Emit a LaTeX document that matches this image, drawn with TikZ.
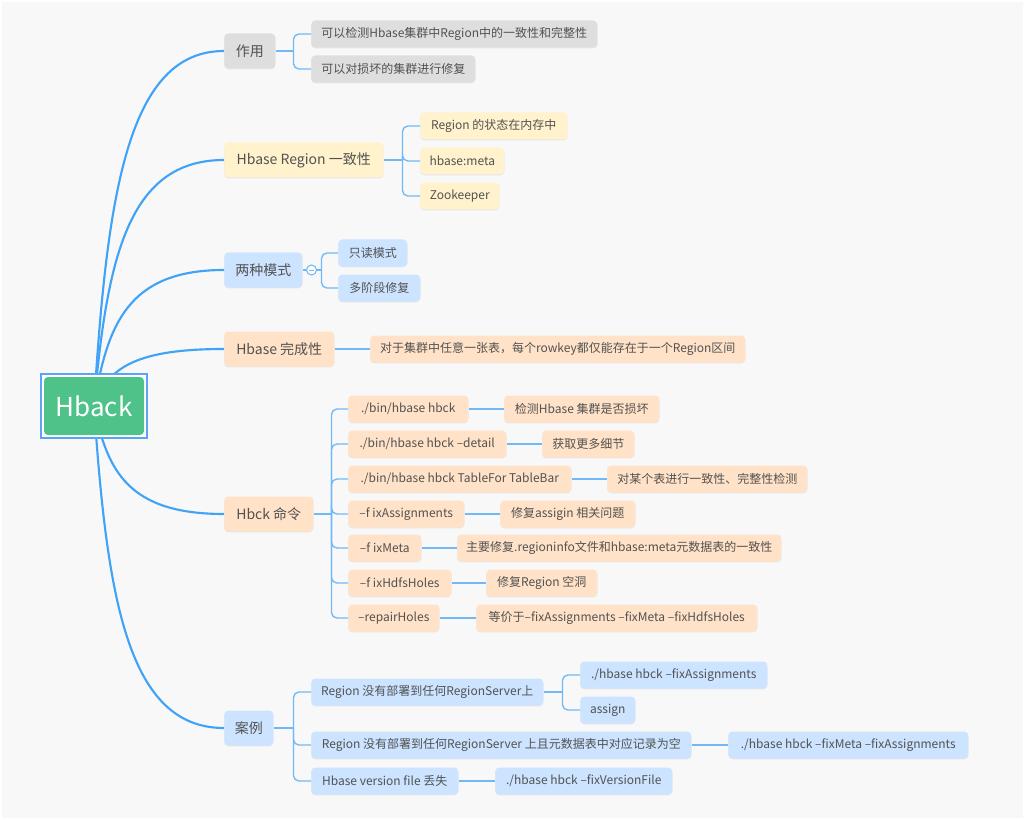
\documentclass[tikz,border=0pt]{standalone}
\usepackage{fontspec}
\setmainfont{Noto Sans CJK SC}
\usetikzlibrary{calc,positioning,shadows}
\definecolor{bgcol}{RGB}{248,248,248}
\definecolor{txtcol}{RGB}{82,82,82}
\definecolor{trunkcol}{RGB}{64,163,247}
\definecolor{twigcol}{RGB}{112,185,246}
\definecolor{selcol}{RGB}{92,162,245}
\definecolor{grayfill}{RGB}{222,222,222}
\definecolor{yelfill}{RGB}{255,242,204}
\definecolor{bluefill}{RGB}{204,228,255}
\definecolor{orgfill}{RGB}{255,226,199}
\definecolor{rootfill}{RGB}{79,194,138}

\begin{document}
\begin{tikzpicture}[x=0.75pt,y=-0.75pt,
  box/.style={rounded corners=3pt,text=txtcol,anchor=west,inner sep=0pt,
    drop shadow={shadow xshift=0pt,shadow yshift=-0.6pt,opacity=0.15}},
  topic/.style={box,minimum height=26.25pt,font=\fontsize{10.5}{12}\selectfont},
  sub/.style={box,minimum height=20.25pt,font=\fontsize{9}{11}\selectfont},
  wd/.style={minimum width=#1*0.75pt},
  gy/.style={fill=grayfill},yl/.style={fill=yelfill},
  bl/.style={fill=bluefill},og/.style={fill=orgfill},
  trunk/.style={draw=trunkcol,line width=1.6pt},
  twig/.style={draw=twigcol,line width=1pt},
  elbow/.style={twig,rounded corners=4pt}]
  \useasboundingbox (0,0) rectangle (1025,820);
  \fill[bgcol] (2,2) rectangle (1023,818);

  \coordinate (hb) at (94,406);

  % first level
  \node[topic,gy,wd=51]  (zy)  at (224,51)  {作用};
  \node[topic,yl,wd=159] (yzx) at (224,160) {Hbase Region 一致性};
  \node[topic,bl,wd=78]  (ms)  at (224,270) {两种模式};
  \node[topic,og,wd=110] (wcx) at (224,349) {Hbase 完成性};
  \node[topic,og,wd=89]  (ml)  at (224,514) {Hbck 命令};
  \node[topic,bl,wd=49]  (al)  at (224,728) {案例};

  \foreach \n in {zy,yzx,ms,wcx,ml,al}
    \draw[trunk] (hb) .. controls ($(hb)!0.6!(hb |- \n.west)+(13,0)$) and ($(hb |- \n.west)+(34,0)$) .. (\n.west);

  % root
  \draw[draw=selcol,line width=1.1pt,fill=white] ($(hb)+(-53,-32)$) rectangle ($(hb)+(53,32)$);
  \node[rounded corners=3pt,fill=rootfill,text=white,minimum width=75pt,minimum height=43.5pt,
    font=\fontsize{19.5}{22}\selectfont] (hback) at (hb) {Hback};

  % 作用
  \node[sub,gy,wd=286] (zy1) at (311,34) {可以检测Hbase集群中Region中的一致性和完整性};
  \node[sub,gy,wd=164] (zy2) at (311,69) {可以对损坏的集群进行修复};
  \draw[twig] (zy.east) -- ++(18,0) coordinate (zyb);
  \draw[elbow] (zyb) |- (zy1.west);
  \draw[elbow] (zyb) |- (zy2.west);

  % Hbase Region
  \node[sub,yl,wd=147] (yzx1) at (420,126) {Region 的状态在内存中};
  \node[sub,yl,wd=84]  (yzx2) at (420,161) {hbase:meta};
  \node[sub,yl,wd=79]  (yzx3) at (420,196) {Zookeeper};
  \draw[twig] (yzx.east) -- ++(19,0) coordinate (yzxb);
  \foreach \i in {1,2,3}
    \draw[elbow] (yzxb) |- (yzx\i.west);

  % 两种模式
  \node[sub,bl,wd=69] (ms1) at (338,253) {只读模式};
  \node[sub,bl,wd=82] (ms2) at (338,288) {多阶段修复};
  \draw[twig] (ms.east) -- ++(19,0) coordinate (msb);
  \draw[elbow] (msb) |- (ms1.west);
  \draw[elbow] (msb) |- (ms2.west);
  \node[circle,draw=twigcol,line width=0.8pt,fill=white,minimum size=7.5pt,inner sep=0pt] (mst) at ($(ms.east)+(9,0)$) {};
  \draw[draw=twigcol,line width=0.7pt] ($(mst.center)+(-2.5,0)$) -- ($(mst.center)+(2.5,0)$);

  % Hbase 完成性
  \node[sub,og,wd=375] (wcx1) at (370,349) {对于集群中任意一张表，每个rowkey都仅能存在于一个Region区间};
  \draw[twig] (wcx.east) -- (wcx1.west);

  % Hbck 命令
  \node[sub,og,wd=120] (ml1) at (348,409) {./bin/hbase hbck};
  \node[sub,og,wd=158] (ml2) at (348,444) {./bin/hbase hbck –detail};
  \node[sub,og,wd=223] (ml3) at (348,479) {./bin/hbase hbck TableFor TableBar};
  \node[sub,og,wd=116] (ml4) at (348,514) {–f ixAssignments};
  \node[sub,og,wd=73]  (ml5) at (348,548) {–f ixMeta};
  \node[sub,og,wd=103] (ml6) at (348,583) {–f ixHdfsHoles};
  \node[sub,og,wd=91]  (ml7) at (348,618) {–repairHoles};
  \node[sub,og,wd=155] (ml1a) at (504,409) {检测Hbase 集群是否损坏};
  \node[sub,og,wd=92]  (ml2a) at (542,444) {获取更多细节};
  \node[sub,og,wd=200] (ml3a) at (607,479) {对某个表进行一致性、完整性检测};
  \node[sub,og,wd=135] (ml4a) at (500,514) {修复assigin 相关问题};
  \node[sub,og,wd=324] (ml5a) at (457,548) {主要修复.regioninfo文件和hbase:meta元数据表的一致性};
  \node[sub,og,wd=111] (ml6a) at (486,583) {修复Region 空洞};
  \node[sub,og,wd=281] (ml7a) at (476,618) {等价于–fixAssignments –fixMeta –fixHdfsHoles};
  \draw[twig] (ml.east) -- ++(18,0) coordinate (mlb);
  \foreach \i in {1,...,7}{
    \draw[elbow] (mlb) |- (ml\i.west);
    \draw[twig] (ml\i.east) -- (ml\i a.west);
  }

  % 案例
  \node[sub,bl,wd=232] (al1) at (311,692) {Region 没有部署到任何RegionServer上};
  \node[sub,bl,wd=187] (al1a) at (580,675) {./hbase hbck –fixAssignments};
  \node[sub,bl,wd=55]  (al1b) at (580,710) {assign};
  \node[sub,bl,wd=380] (al2) at (311,745) {Region 没有部署到任何RegionServer 上且元数据表中对应记录为空};
  \node[sub,bl,wd=240] (al2a) at (728,745) {./hbase hbck –fixMeta –fixAssignments};
  \node[sub,bl,wd=147] (al3) at (311,781) {Hbase version file 丢失};
  \node[sub,bl,wd=177] (al3a) at (495,781) {./hbase hbck –fixVersionFile};
  \draw[twig] (al.east) -- ++(20,0) coordinate (alb);
  \foreach \i in {1,2,3}
    \draw[elbow] (alb) |- (al\i.west);
  \draw[twig] (al1.east) -- ++(19,0) coordinate (al1c);
  \draw[elbow] (al1c) |- (al1a.west);
  \draw[elbow] (al1c) |- (al1b.west);
  \draw[twig] (al2.east) -- (al2a.west);
  \draw[twig] (al3.east) -- (al3a.west);
\end{tikzpicture}
\end{document}
